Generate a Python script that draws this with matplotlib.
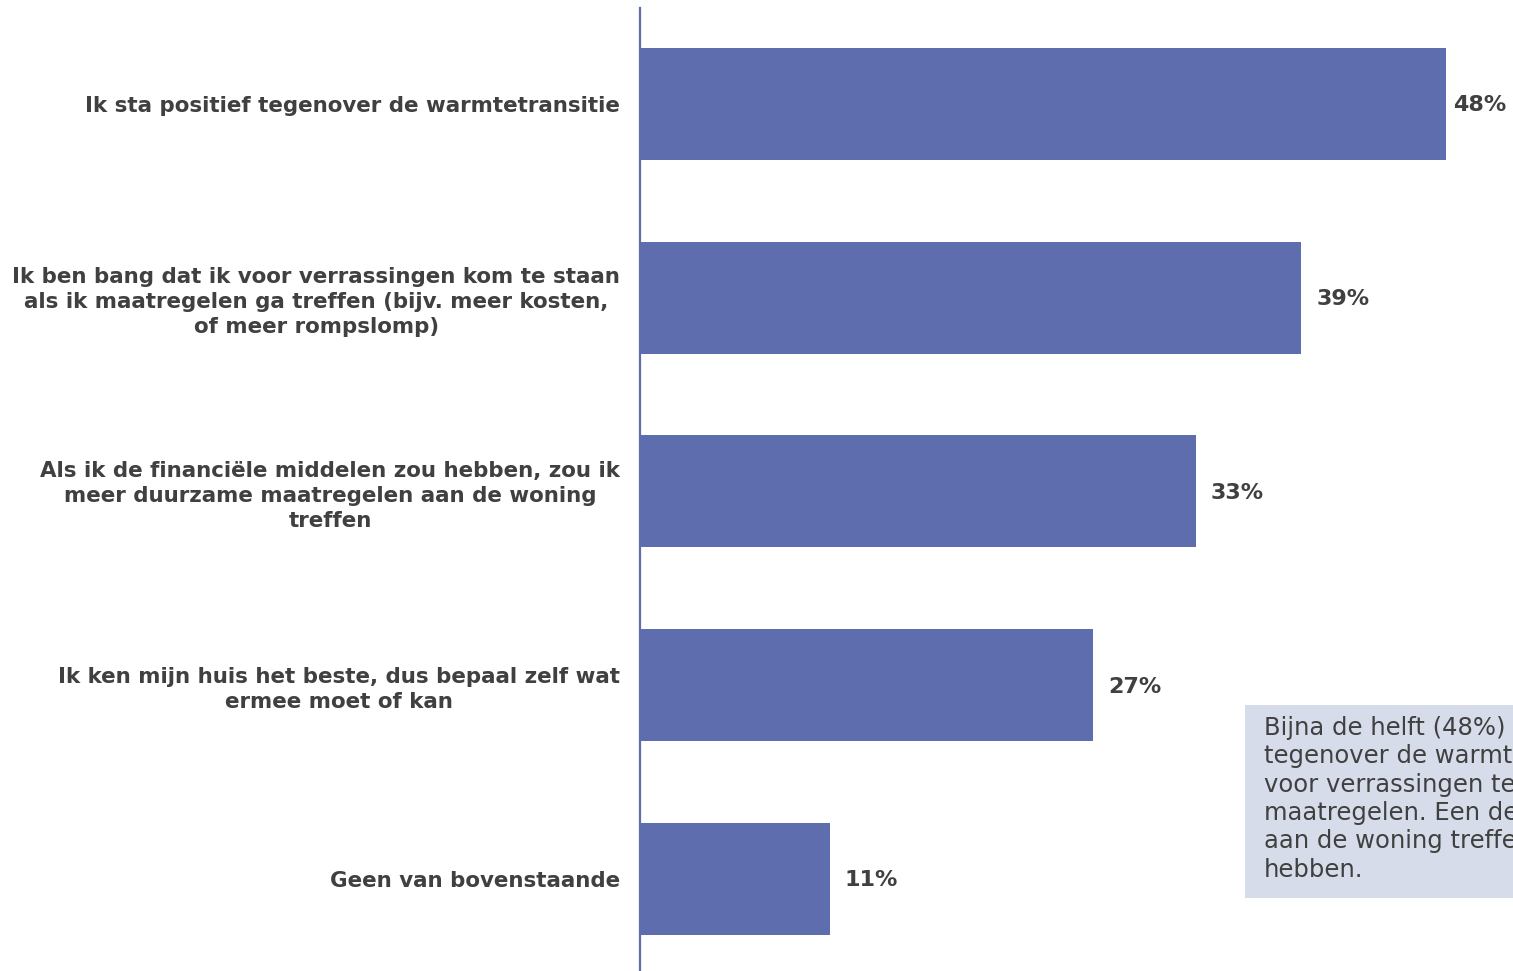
import matplotlib
matplotlib.use("Agg")
import matplotlib.pyplot as plt
from matplotlib.patches import Rectangle

categories = [
    "Ik sta positief tegenover de warmtetransitie",
    "Ik ben bang dat ik voor verrassingen kom te staan\nals ik maatregelen ga treffen (bijv. meer kosten,\nof meer rompslomp)",
    "Als ik de financiële middelen zou hebben, zou ik\nmeer duurzame maatregelen aan de woning\ntreffen",
    "Ik ken mijn huis het beste, dus bepaal zelf wat\nermee moet of kan",
    "Geen van bovenstaande",
]
values = [48.0, 39.4, 33.1, 27.0, 11.3]
value_labels = ["48%", "39%", "33%", "27%", "11%"]
note_lines = [
    "Bijna de helft (48%) staat positief",
    "tegenover de warmtetransitie, 39% is bang",
    "voor verrassingen te komen staan bij",
    "maatregelen. Een derde zou meer maatregelen",
    "aan de woning treffen als ze de middelen",
    "hebben.",
]

W, H = 1513, 971
fig = plt.figure(figsize=(W / 100, H / 100), dpi=100)
fig.patch.set_facecolor("white")

bar_color = "#5d6dad"
text_color = "#404040"

ax = fig.add_axes([640 / W, 0, 1 - 640 / W, (971 - 8) / H])
ypos = list(range(len(categories)))
ax.barh(ypos, values, height=0.578, color=bar_color, edgecolor="none")
ax.set_xlim(0, 52.0)
ax.set_ylim(4.475, -0.495)
for s in ["top", "right", "bottom"]:
    ax.spines[s].set_visible(False)
ax.spines["left"].set_color(bar_color)
ax.spines["left"].set_linewidth(1.6)
ax.set_xticks([])
ax.set_yticks(ypos)
ax.set_yticklabels(categories, fontsize=15.4, fontweight="bold", color=text_color,
                   multialignment="center", linespacing=1.3)
ax.tick_params(axis="y", length=0, pad=14.4)

for i, (v, lab) in enumerate(zip(values, value_labels)):
    off = 7 if i == 0 else 15
    ax.annotate(lab, (v, i), xytext=(off * 0.72, -1), textcoords="offset points",
                ha="left", va="center", fontsize=16, fontweight="bold", color=text_color)

fig.patches.append(Rectangle((1245 / W, (971 - 898) / H), 400 / W, 193 / H,
                             transform=fig.transFigure, facecolor="#d6dce9",
                             edgecolor="none", zorder=1))
fig.text(1264 / W, (971 - 716) / H, "\n".join(note_lines), ha="left", va="top",
         fontsize=17.5, color=text_color, linespacing=1.23, zorder=2)

fig.savefig("out.png", dpi=100, facecolor="white")
